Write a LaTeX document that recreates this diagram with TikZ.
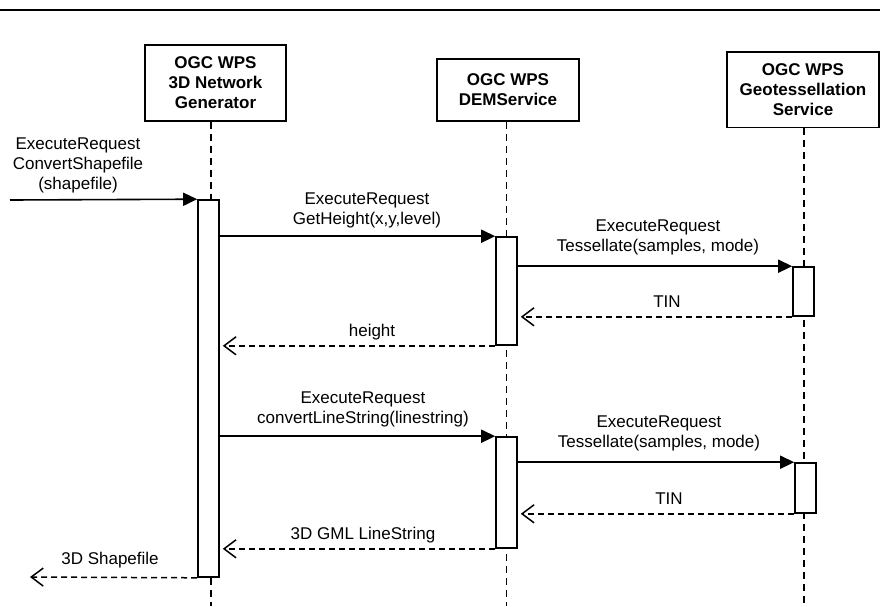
\documentclass[tikz,border=0pt]{standalone}
\usepackage{fontspec}
\setmainfont{Liberation Sans}
\usetikzlibrary{arrows.meta}
\begin{document}
\begin{tikzpicture}[x=1pt,y=-1pt,
 every node/.style={font=\fontsize{17}{20}\selectfont},
 titlebox/.style={draw,line width=1.6pt,fill=white,align=center,font=\fontsize{17}{20}\selectfont\bfseries,inner sep=0pt},
 actbox/.style={draw,line width=1.6pt,fill=white,minimum width=21pt,inner sep=0pt},
 lifeline/.style={line width=1.5pt,dash pattern=on 7pt off 5pt},
 callmsg/.style={line width=1.6pt,-{Triangle[length=14pt,width=13pt]}},
 retmsg/.style={line width=1.5pt,dash pattern=on 6pt off 4pt,-{Straight Barb[length=12pt,width=18pt]},shorten >=3pt},
 lbl/.style={align=center,inner sep=0pt}
]
\useasboundingbox (0,0) rectangle (880,606);
\coordinate (ruleL) at (0,10);
\coordinate (ruleR) at (880,10);
\draw[line width=2.4pt] (ruleL) -- (ruleR);

% participants
\node[titlebox,minimum width=141pt,minimum height=76pt] (b1) at (215.5,83) {OGC WPS\\3D Network\\Generator};
\node[titlebox,minimum width=142pt,minimum height=62pt] (b2) at (508,90) {OGC WPS\\DEMService};
\node[titlebox,minimum width=152pt,minimum height=75.5pt] (b3) at (803,89.75) {OGC WPS\\Geotessellation\\Service};

% lifelines
\coordinate (l1) at (211,606);
\coordinate (l2) at (506.5,606);
\coordinate (l3) at (804,606);
\draw[lifeline] (b1.south -| l1) -- (l1);
\draw[lifeline] (b2.south -| l2) -- (l2);
\draw[lifeline] (b3.south -| l3) -- (l3);

% activations
\node[actbox,minimum height=377pt] (a1) at (208.5,388.5) {};
\node[actbox,minimum height=108pt] (a2) at (506.5,291) {};
\node[actbox,minimum height=49pt] (a3) at (803.5,291.5) {};
\node[actbox,minimum height=111pt] (a4) at (506.5,492.5) {};
\node[actbox,minimum height=50pt] (a5) at (805.5,488) {};

% messages
\coordinate (src) at (10,200);
\coordinate (dst) at (30,577);
\draw[callmsg] (src) -- (a1.north west);
\draw[callmsg] (a1.east |- a2.north) -- (a2.north west);
\draw[callmsg] (a2.east |- a3.north) -- (a3.north west);
\draw[retmsg] (a3.south west) -- (a2.east |- a3.south);
\draw[retmsg] (a2.south west) -- (a1.east |- a2.south);
\draw[callmsg] (a1.east |- a4.north) -- (a4.north west);
\draw[callmsg] (a4.east |- a5.north) -- (a5.north west);
\draw[retmsg] (a5.south west) -- (a4.east |- a5.south);
\draw[retmsg] (a4.south west) -- (a1.east |- a4.south);
\draw[retmsg,shorten >=0pt] (a1.south west) -- (dst);

% labels
\node[lbl] (t1) at (78,165) {ExecuteRequest\\ConvertShapefile\\(shapefile)};
\node[lbl] (t2) at (367,210) {ExecuteRequest\\GetHeight(x,y,level)};
\node[lbl] (t3) at (658,237) {ExecuteRequest\\Tessellate(samples, mode)};
\node[lbl] (t4) at (667,302) {TIN};
\node[lbl] (t5) at (372,332) {height};
\node[lbl] (t6) at (363,409.5) {ExecuteRequest\\convertLineString(linestring)};
\node[lbl] (t7) at (659,433.5) {ExecuteRequest\\Tessellate(samples, mode)};
\node[lbl] (t8) at (669,499) {TIN};
\node[lbl] (t9) at (363,535) {3D GML LineString};
\node[lbl] (t10) at (110,560) {3D Shapefile};
\end{tikzpicture}
\end{document}
